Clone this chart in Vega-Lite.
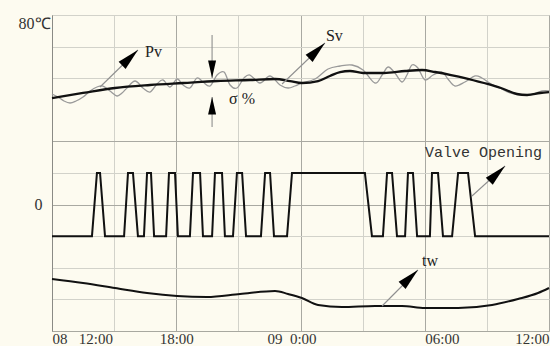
{
  "$schema": "https://vega.github.io/schema/vega-lite/v6.json",
  "width": 497,
  "height": 316,
  "autosize": {"type": "none"},
  "padding": {"left": 52, "top": 15, "right": 1, "bottom": 15},
  "background": "#fdfbf0",
  "config": {"view": {"stroke": "#a8a8a0", "strokeWidth": 1}},
  "datasets": {
    "sv": [{"h":0,"v":73.73},{"h":1.5,"v":75.32},{"h":3.04,"v":76.9},{"h":4.73,"v":77.85},{"h":6.33,"v":78.48},{"h":7.97,"v":79.11},{"h":9.56,"v":79.43},{"h":10.77,"v":79.75},{"h":11.49,"v":79.11},{"h":12.07,"v":78.48},{"h":12.85,"v":79.11},{"h":13.42,"v":80.7},{"h":13.91,"v":81.96},{"h":14.39,"v":82.28},{"h":15.02,"v":81.65},{"h":16.03,"v":81.65},{"h":17.05,"v":82.28},{"h":17.87,"v":82.59},{"h":18.5,"v":81.96},{"h":19.27,"v":81.01},{"h":19.94,"v":80.06},{"h":20.86,"v":78.48},{"h":21.68,"v":76.9},{"h":22.45,"v":75},{"h":22.94,"v":74.68},{"h":23.57,"v":75.32},{"h":24,"v":75.63}],
    "pv": [{"h":0,"v":75},{"h":0.29,"v":74.05},{"h":0.58,"v":72.78},{"h":0.87,"v":72.15},{"h":1.16,"v":72.78},{"h":1.5,"v":74.05},{"h":1.84,"v":75.95},{"h":2.17,"v":77.22},{"h":2.46,"v":77.53},{"h":2.8,"v":75.95},{"h":3.14,"v":74.37},{"h":3.38,"v":75.32},{"h":3.62,"v":76.9},{"h":4.01,"v":79.11},{"h":4.39,"v":76.9},{"h":4.73,"v":75.63},{"h":5.07,"v":78.16},{"h":5.36,"v":79.43},{"h":5.7,"v":77.22},{"h":6.04,"v":79.75},{"h":6.33,"v":77.85},{"h":6.66,"v":76.9},{"h":7.0,"v":80.06},{"h":7.29,"v":78.8},{"h":7.63,"v":77.53},{"h":7.97,"v":81.01},{"h":8.31,"v":81.96},{"h":8.6,"v":77.85},{"h":8.93,"v":76.9},{"h":9.27,"v":80.06},{"h":9.56,"v":81.01},{"h":10.04,"v":78.48},{"h":10.53,"v":80.7},{"h":11.01,"v":77.85},{"h":11.4,"v":76.9},{"h":11.73,"v":77.53},{"h":12.07,"v":78.48},{"h":12.7,"v":79.75},{"h":13.33,"v":82.91},{"h":13.91,"v":83.86},{"h":14.49,"v":84.18},{"h":15.02,"v":82.59},{"h":15.6,"v":78.48},{"h":15.94,"v":81.01},{"h":16.23,"v":83.54},{"h":16.56,"v":81.65},{"h":16.9,"v":78.8},{"h":17.14,"v":81.01},{"h":17.38,"v":84.18},{"h":17.67,"v":83.23},{"h":18.01,"v":79.43},{"h":18.4,"v":81.01},{"h":18.83,"v":81.96},{"h":19.12,"v":79.75},{"h":19.46,"v":77.53},{"h":19.94,"v":78.8},{"h":20.43,"v":80.7},{"h":20.76,"v":80.06},{"h":21.2,"v":78.16},{"h":21.63,"v":76.9},{"h":22.12,"v":75.32},{"h":22.6,"v":74.68},{"h":23.08,"v":74.68},{"h":23.66,"v":75.95},{"h":24,"v":75.95}],
    "valve": [{"h":0,"v":30},{"h":1.93,"v":30},{"h":2.17,"v":50},{"h":2.32,"v":50},{"h":2.56,"v":30},{"h":3.48,"v":30},{"h":3.67,"v":50},{"h":3.91,"v":50},{"h":4.15,"v":30},{"h":4.44,"v":30},{"h":4.59,"v":50},{"h":4.78,"v":50},{"h":4.93,"v":30},{"h":5.51,"v":30},{"h":5.65,"v":50},{"h":5.94,"v":50},{"h":6.08,"v":30},{"h":6.66,"v":30},{"h":6.81,"v":50},{"h":7.15,"v":50},{"h":7.29,"v":30},{"h":7.73,"v":30},{"h":7.87,"v":50},{"h":8.21,"v":50},{"h":8.35,"v":30},{"h":8.74,"v":30},{"h":8.93,"v":50},{"h":9.18,"v":50},{"h":9.37,"v":30},{"h":10.09,"v":30},{"h":10.29,"v":50},{"h":10.53,"v":50},{"h":10.72,"v":30},{"h":11.35,"v":30},{"h":11.59,"v":50},{"h":15.11,"v":50},{"h":15.45,"v":30},{"h":15.98,"v":30},{"h":16.18,"v":50},{"h":16.42,"v":50},{"h":16.66,"v":30},{"h":17.05,"v":30},{"h":17.19,"v":50},{"h":17.43,"v":50},{"h":17.63,"v":30},{"h":18.25,"v":30},{"h":18.35,"v":50},{"h":18.64,"v":50},{"h":18.88,"v":30},{"h":19.32,"v":30},{"h":19.61,"v":50},{"h":20.09,"v":50},{"h":20.43,"v":30},{"h":24,"v":30}],
    "tw": [{"h":0,"v":16.46},{"h":1.5,"v":15.19},{"h":3.04,"v":13.61},{"h":4.59,"v":12.03},{"h":6.04,"v":11.08},{"h":7.48,"v":10.76},{"h":9.08,"v":11.71},{"h":10.77,"v":12.66},{"h":11.4,"v":11.71},{"h":12.07,"v":10.44},{"h":12.85,"v":8.23},{"h":14.0,"v":7.59},{"h":15.6,"v":7.91},{"h":16.9,"v":7.91},{"h":18.01,"v":7.28},{"h":19.61,"v":7.28},{"h":21.25,"v":8.23},{"h":22.5,"v":10.13},{"h":23.47,"v":12.03},{"h":24,"v":13.61}],
    "arrows": [
      {"name":"Pv","h":2.32,"v":77.22,"h2":4.15,"v2":88.92},
      {"name":"Sv","h":11.11,"v":78.16,"h2":13.18,"v2":91.14},
      {"name":"sigma-top","h":7.73,"v":93.67,"h2":7.73,"v2":80.06},
      {"name":"sigma-bottom","h":7.73,"v":64.56,"h2":7.73,"v2":74.05},
      {"name":"Valve","h":20.28,"v":42.72,"h2":21.88,"v2":52.22},
      {"name":"tw","h":15.94,"v":7.91,"h2":17.67,"v2":19.3}
    ],
    "heads": [
      {"name":"Pv","dir":"diag","h":4.15,"v":88.92},
      {"name":"Sv","dir":"diag","h":13.18,"v":91.14},
      {"name":"Valve","dir":"diag","h":21.88,"v":52.22},
      {"name":"tw","dir":"diag","h":17.67,"v":19.3},
      {"name":"sigma-top","dir":"down","h":7.73,"v":80.06},
      {"name":"sigma-bottom","dir":"up","h":7.73,"v":74.05}
    ],
    "labels": [
      {"text":"Pv","h":4.49,"v":88.29},
      {"text":"Sv","h":13.23,"v":93.35},
      {"text":"σ %","h":8.55,"v":73.42},
      {"text":"tw","h":17.87,"v":22.15}
    ],
    "monolabels": [
      {"text":"Valve Opening","h":18.01,"v":56.49}
    ]
  },
  "encoding": {
    "x": {
      "field": "h", "type": "quantitative",
      "scale": {"domain": [0, 24], "nice": false, "zero": false},
      "axis": {
        "title": null,
        "values": [0, 3, 6, 9, 12, 15, 18, 21, 24],
        "grid": true, "ticks": false,
        "domainColor": "#a8a8a0",
        "labelFont": "Liberation Serif", "labelFontSize": 15, "labelColor": "#333333",
        "labelPadding": 0, "labelOverlap": false, "labelFlush": false, "labelBound": false,
        "labelBaseline": "top",
        "labelExpr": "datum.value == 0 ? '08\u00a0\u00a0\u00a012:00' : datum.value == 6 ? '18:00' : datum.value == 12 ? '09\u00a0\u00a00:00' : datum.value == 18 ? '06:00' : datum.value == 24 ? '12:00' : ''",
        "gridColor": {"condition": {"test": "datum.value % 6 == 0", "value": "#a9a9a2"}, "value": "#d2d2ca"},
        "labelAlign": {"condition": [{"test": "datum.value == 24", "value": "right"}, {"test": "datum.value == 0 || datum.value == 18", "value": "left"}], "value": "center"},
        "labelOffset": {"condition": {"test": "datum.value == 12", "value": -9}, "value": 0}
      }
    },
    "y": {
      "field": "v", "type": "quantitative",
      "scale": {"domain": [0, 100], "nice": false},
      "axis": {
        "title": null,
        "values": [0, 10, 20, 30, 40, 50, 60, 80, 90, 100],
        "grid": true, "ticks": false,
        "domainColor": "#8a8a85",
        "labelFont": "Liberation Serif", "labelFontSize": 16, "labelColor": "#333333",
        "labelOverlap": false, "labelFlush": false, "labelBound": false,
        "labelExpr": "datum.value == 100 ? '80℃' : datum.value == 40 ? '0' : ''",
        "gridColor": {"condition": {"test": "datum.value == 60 || datum.value == 40", "value": "#a9a9a2"}, "value": "#d2d2ca"},
        "labelBaseline": {"condition": {"test": "datum.value == 100", "value": "top"}, "value": "middle"},
        "labelPadding": {"condition": {"test": "datum.value == 40", "value": 10}, "value": 2}
      }
    }
  },
  "layer": [
    {"data": {"name": "pv"}, "mark": {"type": "line", "color": "#9a9a9a", "strokeWidth": 1.3, "interpolate": "cardinal"}},
    {"data": {"name": "sv"}, "mark": {"type": "line", "color": "#111111", "strokeWidth": 2.3, "interpolate": "monotone"}},
    {"data": {"name": "valve"}, "mark": {"type": "line", "color": "#111111", "strokeWidth": 2, "interpolate": "linear"}},
    {"data": {"name": "tw"}, "mark": {"type": "line", "color": "#111111", "strokeWidth": 2, "interpolate": "monotone"}},
    {"data": {"name": "arrows"}, "mark": {"type": "rule", "color": "#8f8f8f", "strokeWidth": 1.1},
     "encoding": {"x2": {"field": "h2"}, "y2": {"field": "v2"}}},
    {"data": {"name": "heads"}, "transform": [{"filter": "datum.dir == 'diag'"}],
     "mark": {"type": "point", "shape": "M0,0L-0.5,2.2L0.5,2.2Z", "size": 400, "angle": 46, "filled": true, "color": "#000000", "opacity": 1, "strokeWidth": 0}},
    {"data": {"name": "heads"}, "transform": [{"filter": "datum.dir == 'down'"}],
     "mark": {"type": "point", "shape": "M0,0L-0.5,2.2L0.5,2.2Z", "size": 256, "angle": 180, "filled": true, "color": "#000000", "opacity": 1, "strokeWidth": 0}},
    {"data": {"name": "heads"}, "transform": [{"filter": "datum.dir == 'up'"}],
     "mark": {"type": "point", "shape": "M0,0L-0.5,2.2L0.5,2.2Z", "size": 256, "angle": 0, "filled": true, "color": "#000000", "opacity": 1, "strokeWidth": 0}},
    {"data": {"name": "labels"}, "mark": {"type": "text", "align": "left", "baseline": "middle", "font": "Liberation Serif", "fontSize": 16, "color": "#222222"},
     "encoding": {"text": {"field": "text"}}},
    {"data": {"name": "monolabels"}, "mark": {"type": "text", "align": "left", "baseline": "middle", "font": "Liberation Mono", "fontSize": 15, "color": "#333333"},
     "encoding": {"text": {"field": "text"}}}
  ]
}
